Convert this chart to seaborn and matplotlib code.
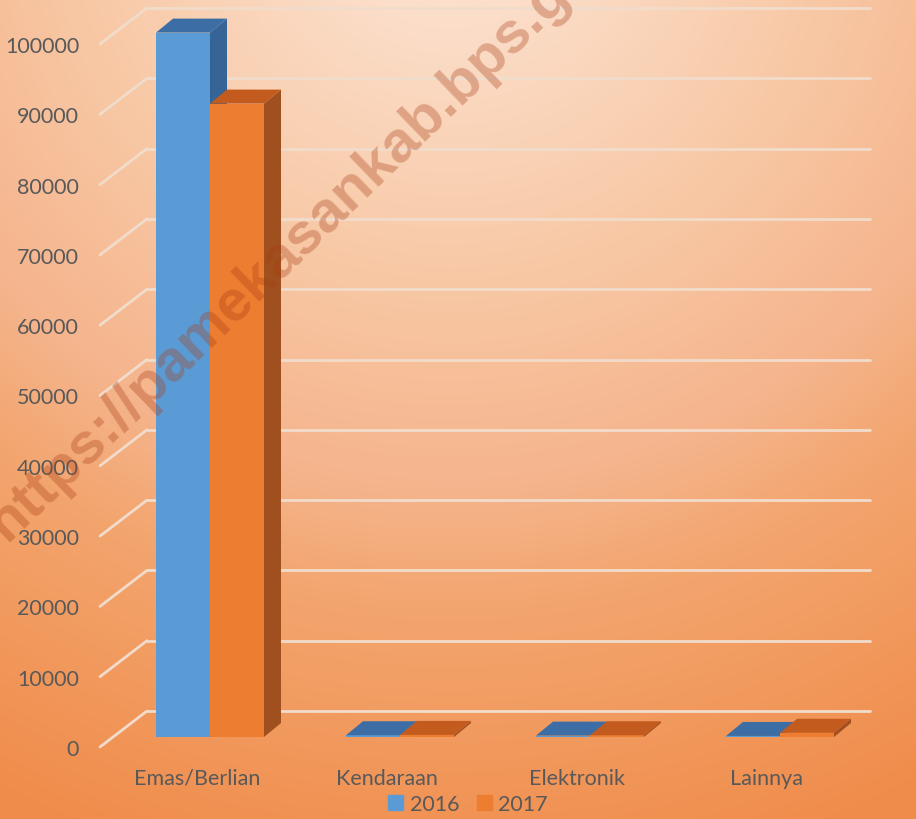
import matplotlib
matplotlib.use("Agg")  # tanpa display
import matplotlib.pyplot as plt
import matplotlib.colors as mcolors
import numpy as np
import pandas as pd
import seaborn as sns
from matplotlib.patches import Patch, Polygon

# --- data ---
kategori = ["Emas/Berlian", "Kendaraan", "Elektronik", "Lainnya"]
tahun = ["2016", "2017"]
nilai_2016 = [100200, 250, 200, 150]
nilai_2017 = [90100, 300, 250, 600]
y_ticks = list(range(0, 100001, 10000))

BIRU, ORANYE = "#5b9bd5", "#ed7d31"
ATAS = {BIRU: "#3c6ea5", ORANYE: "#c35a1e"}   # sisi atas batang
SISI = {BIRU: "#376496", ORANYE: "#a0501e"}   # sisi kanan batang
GRID = "#f1dccb"
TEKS = "#595959"

W, H = 916, 820
sns.set_style("white")
plt.rcParams["font.family"] = ["Lato", "DejaVu Sans"]

df = pd.DataFrame({
    "kategori": kategori * 2,
    "tahun": [tahun[0]] * len(kategori) + [tahun[1]] * len(kategori),
    "nilai": nilai_2016 + nilai_2017,
})

fig = plt.figure(figsize=(W / 100, H / 100), dpi=100)

# latar gradien radial oranye
yy, xx = np.mgrid[0:H, 0:W]
d = np.hypot(xx - 450, yy + 100)
stops = [0, 380, 590, 710, 1000]
warna = np.array([(253, 232, 218), (248, 200, 165), (245, 180, 140),
                  (243, 165, 110), (240, 140, 75)]) / 255
img = np.dstack([np.interp(d, stops, warna[:, k]) for k in range(3)])
bg = fig.add_axes([0, 0, 1, 1])
bg.imshow(img, aspect="auto", extent=[0, W, H, 0])
bg.axis("off")

# sumbu utama = bidang depan
ax = fig.add_axes([100 / W, 72 / H, 723 / W, 703 / H])
ax.patch.set_alpha(0)
ux, uy = 1 / 190, 100000 / 703          # satuan data per piksel
xmin = -97 / 190

sns.barplot(df, x="kategori", y="nilai", hue="tahun", palette=[BIRU, ORANYE],
            width=108 / 190, gap=0, saturation=1, errorbar=None,
            legend=False, ax=ax)

# kesan 3D: geser muka depan, tambah sisi atas & kanan
ox, oy = 13 * ux, 10 * uy
ddx, ddy = 17 * ux, 14 * uy
bars = sorted(ax.patches, key=lambda p: p.get_x())
for i, p in enumerate(bars):
    x0, w, h = p.get_x() + ox, p.get_width(), p.get_height()
    c = mcolors.to_hex(p.get_facecolor())
    p.set_x(x0); p.set_y(oy); p.set_edgecolor("none")
    p.set_zorder(3 + 3 * i); p.set_clip_on(False)
    top = [(x0, oy + h), (x0 + w, oy + h), (x0 + w + ddx, oy + h + ddy), (x0 + ddx, oy + h + ddy)]
    side = [(x0 + w, oy), (x0 + w + ddx, oy + ddy), (x0 + w + ddx, oy + h + ddy), (x0 + w, oy + h)]
    ax.add_patch(Polygon(side, closed=True, fc=SISI[c], ec="none", zorder=4 + 3 * i, clip_on=False))
    ax.add_patch(Polygon(top, closed=True, fc=ATAS[c], ec="none", zorder=5 + 3 * i, clip_on=False))

# garis grid pada dinding belakang + dinding kiri
wdx, wdy = 47 * ux, 36 * uy
for v in y_ticks:
    ax.plot([xmin, xmin + wdx], [v, v + wdy], color=GRID, lw=2, zorder=1, clip_on=False)
    ax.plot([xmin + wdx, xmin + 770 * ux], [v + wdy, v + wdy], color=GRID, lw=2, zorder=1, clip_on=False)

ax.set_xlim(xmin, xmin + 723 * ux)
ax.set_ylim(0, 100000)
ax.set_yticks(y_ticks)
ax.set_yticklabels([str(v) for v in y_ticks])
ax.tick_params(axis="y", length=0, pad=15, labelsize=15.5, labelcolor=TEKS)
ax.tick_params(axis="x", length=0, pad=15, labelsize=15.5, labelcolor=TEKS)
ax.set_xlabel(""); ax.set_ylabel("")
sns.despine(ax=ax, left=True, bottom=True)

handles = [Patch(color=BIRU, label=tahun[0]), Patch(color=ORANYE, label=tahun[1])]
fig.legend(handles=handles, loc="center", bbox_to_anchor=(468 / W, 1 - 805 / H), ncol=2,
           frameon=False, fontsize=15.5, handlelength=0.7, handleheight=0.7,
           handletextpad=0.3, columnspacing=0.8, labelcolor=TEKS)

# watermark (terpotong di tepi seperti aslinya)
fig.text(316 / W, 1 - 222 / H, "https://pamekasankab.bps.go.id", rotation=44,
         rotation_mode="anchor", ha="center", va="center", fontsize=42,
         fontweight="bold", family=["Liberation Sans", "DejaVu Sans"],
         color="#a83c14", alpha=0.33, zorder=20)

fig.savefig("out.png", dpi=100)
plt.close(fig)
